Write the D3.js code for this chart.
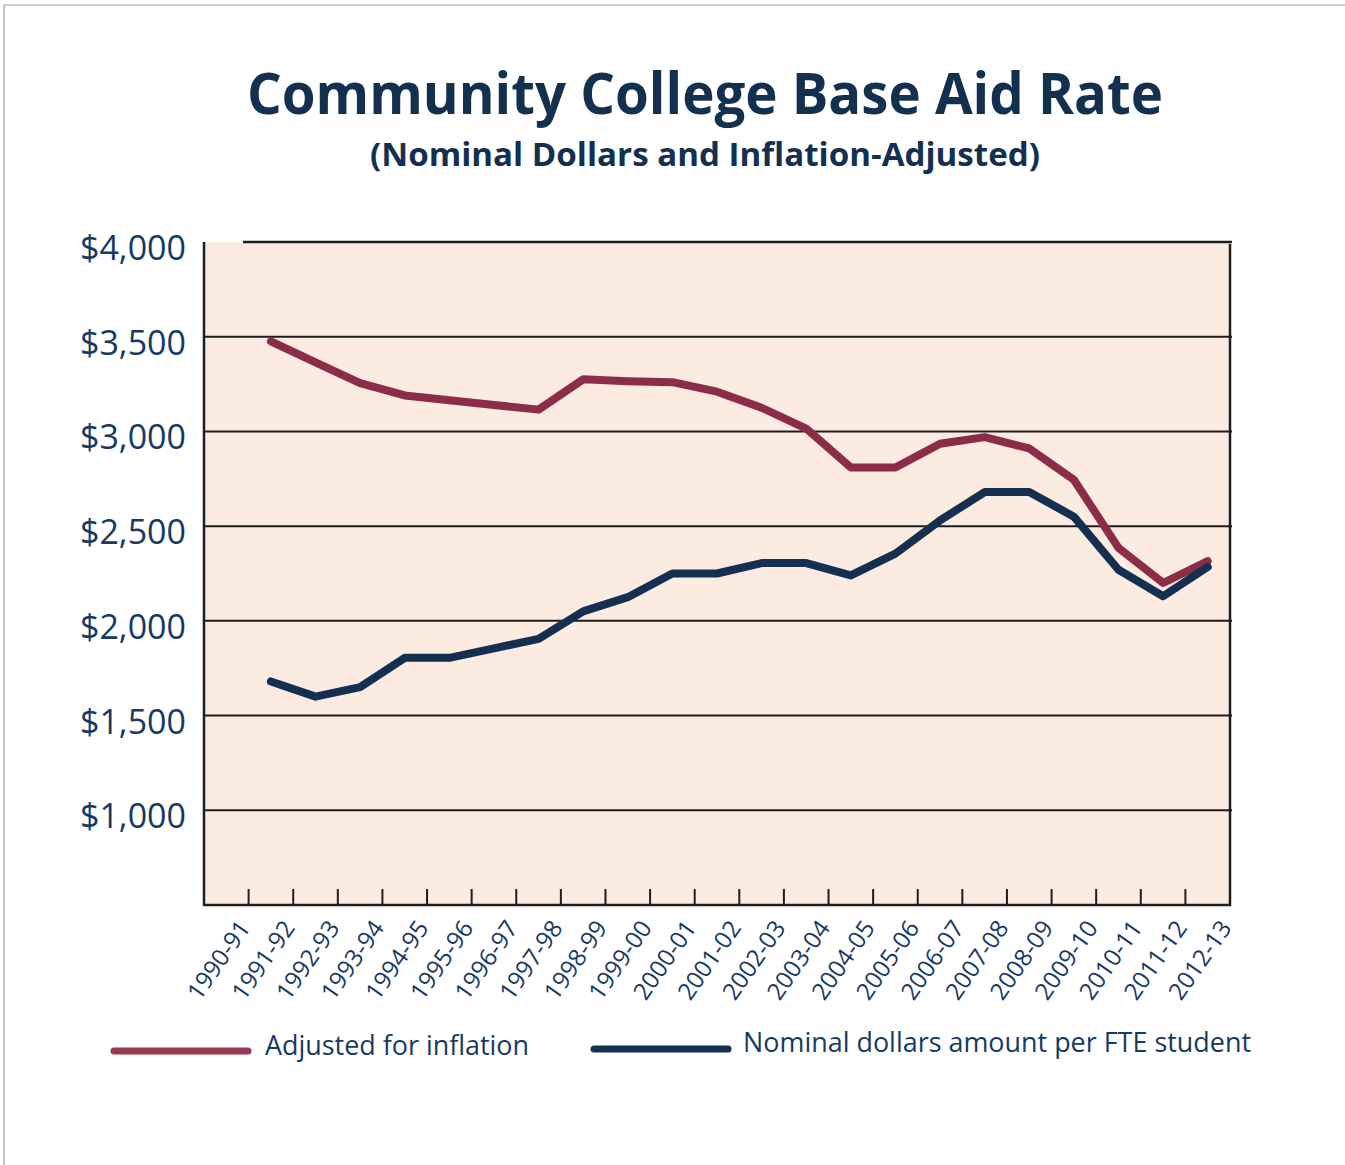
<!DOCTYPE html>
<html>
<head>
<meta charset="utf-8">
<script src="https://cdn.jsdelivr.net/npm/d3@7"></script>
<style>
  html, body { margin: 0; padding: 0; background: #ffffff; }
  svg { display: block; }
</style>
</head>
<body>
<svg id="chart" width="1345" height="1165"></svg>
<script>
// Fiscal years on the category axis
const years = ["1990-91","1991-92","1992-93","1993-94","1994-95","1995-96","1996-97","1997-98",
  "1998-99","1999-00","2000-01","2001-02","2002-03","2003-04","2004-05","2005-06","2006-07",
  "2007-08","2008-09","2009-10","2010-11","2011-12","2012-13"];

// Years covered by both series
const seriesYears = years.slice(1);

// Base aid per FTE student, adjusted for inflation
const adjusted = [3475, 3365, 3255, 3190, 3165, 3140, 3115, 3275, 3265, 3260, 3210,
  3125, 3015, 2810, 2810, 2935, 2970, 2910, 2745, 2385, 2200, 2315];

// Base aid per FTE student, nominal dollars
const nominal = [1680, 1600, 1650, 1805, 1805, 1855, 1905, 2050, 2125, 2250, 2250,
  2305, 2305, 2240, 2355, 2530, 2680, 2680, 2550, 2270, 2130, 2285];

// Value axis ticks
const yTicks = [1000, 1500, 2000, 2500, 3000, 3500, 4000];

const title = "Community College Base Aid Rate";
const subtitle = "(Nominal Dollars and Inflation-Adjusted)";
const legendLabels = ["Adjusted for inflation", "Nominal dollars amount per FTE student"];

const RED = "#8c2d47";
const NAVY = "#142f50";
const TEXT = "#163a63";
const FONT = "'Open Sans', 'Noto Sans', sans-serif";

const svg = d3.select("#chart");

// Page frame (top and left edges)
svg.append("line").attr("x1", 4).attr("x2", 1345).attr("y1", 5).attr("y2", 5)
  .attr("stroke", "#9a9a9a").attr("stroke-width", 1.2);
svg.append("line").attr("x1", 4).attr("x2", 4).attr("y1", 5).attr("y2", 1165)
  .attr("stroke", "#9a9a9a").attr("stroke-width", 1.2);

// Plot geometry
const plot = { left: 204, right: 1230, top: 242, bottom: 905 };

const x = d3.scaleBand().domain(years).range([plot.left, plot.right]).padding(0);
const y = d3.scaleLinear().domain([500, 4000]).range([plot.bottom, plot.top]);
const cx = d => x(d) + x.bandwidth() / 2;

// Titles
svg.append("text")
  .attr("x", 705).attr("y", 114)
  .attr("text-anchor", "middle")
  .attr("textLength", 916).attr("lengthAdjust", "spacingAndGlyphs")
  .attr("font-family", FONT).attr("font-weight", 700).attr("font-size", 57)
  .attr("fill", "#13304f")
  .text(title);

svg.append("text")
  .attr("x", 705).attr("y", 166)
  .attr("text-anchor", "middle")
  .attr("textLength", 670).attr("lengthAdjust", "spacingAndGlyphs")
  .attr("font-family", FONT).attr("font-weight", 700).attr("font-size", 33)
  .attr("fill", "#13304f")
  .text(subtitle);

// Plot background
svg.append("rect")
  .attr("x", plot.left).attr("y", plot.top)
  .attr("width", plot.right - plot.left).attr("height", plot.bottom - plot.top)
  .attr("fill", "#fcebe0");

// Horizontal gridlines
svg.append("g").selectAll("line")
  .data(yTicks)
  .join("line")
  .attr("x1", d => d === 4000 ? 243 : plot.left)
  .attr("x2", plot.right + 2)
  .attr("y1", d => y(d)).attr("y2", d => y(d))
  .attr("stroke", "#1e1e1e").attr("stroke-width", d => d === 4000 ? 2.5 : 2);

// Value labels
svg.append("g").selectAll("text")
  .data(yTicks)
  .join("text")
  .attr("x", 186).attr("y", d => y(d) + 18)
  .attr("text-anchor", "end")
  .attr("font-family", FONT).attr("font-size", 34)
  .attr("fill", TEXT)
  .text(d => "$" + d3.format(",")(d));

// Frame: left, right and bottom axis lines
svg.append("line").attr("x1", plot.left).attr("x2", plot.left)
  .attr("y1", plot.top).attr("y2", plot.bottom + 1)
  .attr("stroke", "#1e1e1e").attr("stroke-width", 2.5);
svg.append("line").attr("x1", plot.right).attr("x2", plot.right)
  .attr("y1", plot.top + 2).attr("y2", plot.bottom + 1)
  .attr("stroke", "#1e1e1e").attr("stroke-width", 2.5);
svg.append("line").attr("x1", plot.left).attr("x2", plot.right + 1)
  .attr("y1", plot.bottom).attr("y2", plot.bottom)
  .attr("stroke", "#1e1e1e").attr("stroke-width", 2.5);

// Category tick marks at band boundaries
svg.append("g").selectAll("line")
  .data(years.slice(1))
  .join("line")
  .attr("x1", d => x(d)).attr("x2", d => x(d))
  .attr("y1", plot.bottom - 16).attr("y2", plot.bottom)
  .attr("stroke", "#1e1e1e").attr("stroke-width", 2);

// Category labels
svg.append("g").selectAll("text")
  .data(years)
  .join("text")
  .attr("transform", d => `translate(${cx(d) + 25},${plot.bottom + 23}) rotate(-55)`)
  .attr("text-anchor", "end")
  .attr("font-family", FONT).attr("font-size", 24)
  .attr("fill", TEXT)
  .text(d => d);

// Series lines
const line = d3.line()
  .x((d, i) => cx(seriesYears[i]))
  .y(d => y(d));

svg.append("path")
  .datum(adjusted)
  .attr("d", line)
  .attr("fill", "none").attr("stroke", RED).attr("stroke-width", 8)
  .attr("stroke-linejoin", "round").attr("stroke-linecap", "round");

svg.append("path")
  .datum(nominal)
  .attr("d", line)
  .attr("fill", "none").attr("stroke", NAVY).attr("stroke-width", 8)
  .attr("stroke-linejoin", "round").attr("stroke-linecap", "round");

// Legend
const legend = [
  { label: legendLabels[0], color: "#973a52", x1: 114, x2: 248, ly: 1051, tx: 265, ty: 1055, w: 264 },
  { label: legendLabels[1], color: NAVY, x1: 594, x2: 728, ly: 1049, tx: 743, ty: 1052, w: 508 }
];
const lg = svg.append("g").selectAll("g").data(legend).join("g");
lg.append("line")
  .attr("x1", d => d.x1).attr("x2", d => d.x2)
  .attr("y1", d => d.ly).attr("y2", d => d.ly)
  .attr("stroke", d => d.color).attr("stroke-width", 7).attr("stroke-linecap", "round");
lg.append("text")
  .attr("x", d => d.tx).attr("y", d => d.ty)
  .attr("textLength", d => d.w).attr("lengthAdjust", "spacingAndGlyphs")
  .attr("font-family", FONT).attr("font-size", 28)
  .attr("fill", TEXT)
  .text(d => d.label);
</script>
</body>
</html>
